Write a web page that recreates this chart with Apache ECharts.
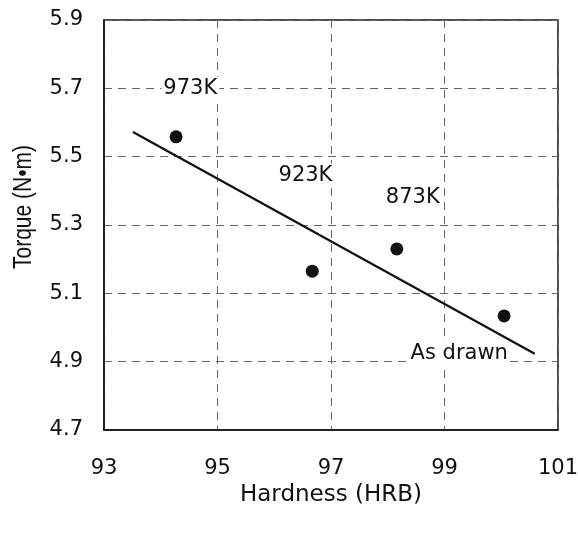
<!DOCTYPE html>
<html>
<head>
<meta charset="utf-8">
<script src="https://cdn.jsdelivr.net/npm/echarts@6/dist/echarts.min.js"></script>
<style>
  html, body { margin: 0; padding: 0; background: #fff; }
  #chart { width: 578px; height: 535px; }
</style>
</head>
<body>
<div id="chart"></div>
<script>
// measured points (hardness HRB, torque N·m)
const hardness = [94.27, 96.67, 98.16, 100.05];
const torque = [5.558, 5.165, 5.23, 5.034];

// regression line end points
const fitX = [93.51, 100.59];
const fitY = [5.572, 4.923];

// annotation texts and their anchor in data units
const noteText = ['973K', '923K', '873K', 'As drawn'];
const noteX = [94.52, 96.55, 98.44, 99.26];
const noteY = [5.70, 5.446, 5.379, 4.923];

const xTicks = [93, 95, 97, 99, 101];
const yTicks = [4.7, 4.9, 5.1, 5.3, 5.5, 5.7, 5.9];

const wide = '"DejaVu Sans", sans-serif';
const chart = echarts.init(document.getElementById('chart'), null, { renderer: 'canvas' });

const gridLine = { show: true, lineStyle: { color: '#666', type: [8, 6], width: 1 } };

const option = {
  backgroundColor: '#fff',
  animation: false,
  grid: {
    left: 104, right: 20, top: 20, bottom: 105,
    outerBoundsMode: 'none',
    show: true, borderColor: '#111', borderWidth: 1.5
  },
  // y-axis title, drawn as a slightly widened rotated text like the scan
  graphic: [{
    type: 'text',
    x: 24,
    y: 207,
    rotation: Math.PI / 2,
    scaleY: 1.2,
    silent: true,
    style: {
      text: 'Torque (N•m)',
      font: '21px "Liberation Sans", Arial, sans-serif',
      fill: '#111',
      align: 'center',
      verticalAlign: 'middle'
    }
  }],
  xAxis: {
    type: 'value',
    min: xTicks[0],
    max: xTicks[xTicks.length - 1],
    interval: 2,
    name: 'Hardness (HRB)',
    nameLocation: 'middle',
    nameGap: 54,
    nameTextStyle: { color: '#111', fontSize: 23, fontFamily: wide },
    axisLine: { show: true, lineStyle: { color: '#111', width: 1.5 } },
    axisTick: { show: false },
    axisLabel: { color: '#111', fontSize: 21, fontFamily: wide, margin: 28 },
    splitLine: gridLine
  },
  yAxis: {
    type: 'value',
    min: yTicks[0],
    max: yTicks[yTicks.length - 1],
    interval: 0.2,
    axisLine: { show: true, lineStyle: { color: '#111', width: 1.5 } },
    axisTick: { show: false },
    axisLabel: {
      color: '#111', fontSize: 21, fontFamily: wide, margin: 21,
      formatter: v => v.toFixed(1)
    },
    splitLine: gridLine
  },
  series: [
    {
      type: 'line',
      data: fitX.map((x, i) => [x, fitY[i]]),
      showSymbol: false,
      lineStyle: { color: '#111', width: 2.2 },
      z: 3
    },
    {
      type: 'scatter',
      data: hardness.map((x, i) => [x, torque[i]]),
      symbolSize: 13,
      itemStyle: { color: '#111', opacity: 1 },
      z: 4
    },
    {
      type: 'scatter',
      data: noteX.map((x, i) => ({ value: [x, noteY[i]], label: { formatter: noteText[i] } })),
      symbolSize: 0,
      silent: true,
      itemStyle: { opacity: 1 },
      label: {
        show: true,
        position: 'inside',
        color: '#111',
        fontSize: 21,
        fontFamily: wide,
        backgroundColor: '#fff',
        padding: [1, 2]
      },
      z: 5
    }
  ]
};

chart.setOption(option);
</script>
</body>
</html>
